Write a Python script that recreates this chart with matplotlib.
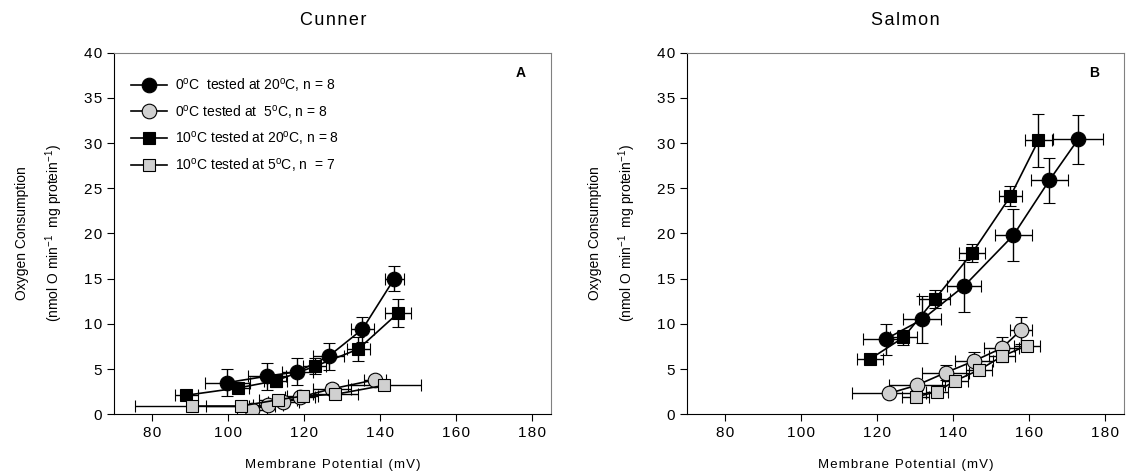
import matplotlib
matplotlib.use("Agg")
import matplotlib.pyplot as plt
from matplotlib.lines import Line2D
from matplotlib.ticker import FuncFormatter

plt.rcParams['font.family'] = ['Liberation Sans', 'DejaVu Sans']
plt.rcParams['mathtext.default'] = 'regular'

# Cunner (panel A)
cun_c20_x = [99.8, 110.1, 118.2, 126.4, 135.3, 143.7]
cun_c20_y = [3.5, 4.2, 4.7, 6.4, 9.4, 15.0]
cun_c20_xe = [6.0, 5.0, 4.0, 4.0, 3.0, 2.5]
cun_c20_ye = [1.5, 1.5, 1.5, 1.5, 1.4, 1.4]

cun_c5_x = [106.3, 110.5, 114.5, 118.9, 127.2, 138.6]
cun_c5_y = [0.5, 1.0, 1.3, 1.9, 2.8, 3.8]
cun_c5_xe = [4.0, 4.0, 4.0, 4.0, 5.0, 3.0]
cun_c5_ye = [0.4, 0.4, 0.4, 0.4, 0.5, 0.4]

cun_s20_x = [89.0, 102.6, 112.5, 122.8, 134.2, 144.7]
cun_s20_y = [2.1, 2.9, 3.7, 5.3, 7.2, 11.2]
cun_s20_xe = [3.0, 3.0, 3.0, 3.0, 3.0, 3.5]
cun_s20_ye = [0.5, 0.6, 0.7, 0.9, 1.3, 1.5]

cun_s5_x = [90.6, 103.3, 113.2, 119.6, 128.2, 141.1]
cun_s5_y = [0.9, 0.9, 1.6, 2.0, 2.2, 3.2]
cun_s5_xe = [15.0, 9.0, 5.0, 4.0, 6.0, 9.5]
cun_s5_ye = [0.3, 0.3, 0.4, 0.4, 0.4, 0.5]

# Salmon (panel B)
sal_c20_x = [122.2, 131.9, 142.9, 155.8, 165.3, 172.8]
sal_c20_y = [8.3, 10.5, 14.2, 19.8, 25.9, 30.4]
sal_c20_xe = [6.0, 5.0, 4.5, 4.8, 4.8, 6.6]
sal_c20_ye = [1.7, 2.6, 2.9, 2.9, 2.5, 2.7]

sal_c5_x = [123.1, 130.4, 138.0, 145.5, 152.7, 157.8]
sal_c5_y = [2.3, 3.2, 4.6, 5.9, 7.3, 9.3]
sal_c5_xe = [9.7, 7.3, 6.1, 5.0, 4.5, 3.0]
sal_c5_ye = [0.3, 0.5, 0.8, 1.0, 1.2, 1.5]

sal_s20_x = [118.1, 126.9, 135.1, 144.9, 155.0, 162.4]
sal_s20_y = [6.1, 8.5, 12.7, 17.8, 24.1, 30.3]
sal_s20_xe = [3.5, 3.5, 4.0, 3.5, 3.0, 3.6]
sal_s20_ye = [0.6, 0.8, 1.0, 1.0, 1.1, 2.9]

sal_s5_x = [130.1, 135.7, 140.5, 146.8, 152.8, 159.4]
sal_s5_y = [1.9, 2.5, 3.7, 4.9, 6.4, 7.6]
sal_s5_xe = [3.5, 3.0, 3.5, 3.5, 3.5, 3.5]
sal_s5_ye = [0.3, 0.4, 0.5, 0.6, 0.6, 0.5]

labels = [r'0$^{o}$C  tested at 20$^{o}$C, n = 8',
          r'0$^{o}$C tested at  5$^{o}$C, n = 8',
          r'10$^{o}$C tested at 20$^{o}$C, n = 8',
          r'10$^{o}$C tested at 5$^{o}$C, n  = 7']

styles = [dict(marker='o', mfc='black', ms=10.5),
          dict(marker='o', mfc='#d0d0d0', ms=10.5),
          dict(marker='s', mfc='black', ms=9),
          dict(marker='s', mfc='#d0d0d0', ms=9)]

panels = [
    ('Cunner', 'A', [(cun_c20_x, cun_c20_y, cun_c20_xe, cun_c20_ye),
                     (cun_c5_x, cun_c5_y, cun_c5_xe, cun_c5_ye),
                     (cun_s20_x, cun_s20_y, cun_s20_xe, cun_s20_ye),
                     (cun_s5_x, cun_s5_y, cun_s5_xe, cun_s5_ye)]),
    ('Salmon', 'B', [(sal_c20_x, sal_c20_y, sal_c20_xe, sal_c20_ye),
                     (sal_c5_x, sal_c5_y, sal_c5_xe, sal_c5_ye),
                     (sal_s20_x, sal_s20_y, sal_s20_xe, sal_s20_ye),
                     (sal_s5_x, sal_s5_y, sal_s5_xe, sal_s5_ye)]),
]


def spaced(s):
    # old SigmaPlot output has wide letter tracking
    return '\u200a'.join(s)


fmt = FuncFormatter(lambda v, p: spaced('%d' % v))

fig = plt.figure(figsize=(11.36, 4.75), dpi=100)
lefts = [0.1004, 0.6048]

for k, (title, letter, series) in enumerate(panels):
    ax = fig.add_axes([lefts[k], 0.128, 0.385, 0.761])
    handles = []
    for (x, y, xe, ye), st in zip(series, styles):
        ax.errorbar(x, y, xerr=xe, yerr=ye, color='black', lw=1.2,
                    elinewidth=1.0, capsize=4, capthick=1.0,
                    mec='black', mew=0.8, **st)
        handles.append(Line2D([], [], color='black', lw=1.2, mec='black',
                              mew=0.8, **st))
    ax.set_xlim(70, 185)
    ax.set_ylim(0, 40)
    ax.set_xticks([80, 100, 120, 140, 160, 180])
    ax.set_yticks(range(0, 41, 5))
    ax.xaxis.set_major_formatter(fmt)
    ax.yaxis.set_major_formatter(fmt)
    ax.tick_params(direction='out', length=5, labelsize=11)
    for side in ['top', 'right']:
        ax.spines[side].set_color('#808080')
    ax.set_title(spaced(title), fontsize=13, pad=20)
    ax.set_xlabel(spaced('Membrane Potential (mV)'), fontsize=9.5, labelpad=14)
    ax.set_ylabel('Oxygen Consumption\n(nmol O min$^{-1}$  mg protein$^{-1}$)',
                  fontsize=10, labelpad=14, linespacing=1.9)
    ax.text(0.93, 0.945, letter, transform=ax.transAxes, fontsize=10,
            fontweight='bold', ha='center', va='center')
    if k == 0:
        ax.legend(handles=handles, labels=labels, loc='upper left',
                  frameon=False, fontsize=10, bbox_to_anchor=(0.01, 0.97),
                  handlelength=2.6, labelspacing=0.62, handletextpad=0.6)

fig.savefig('out.png', dpi=100)
